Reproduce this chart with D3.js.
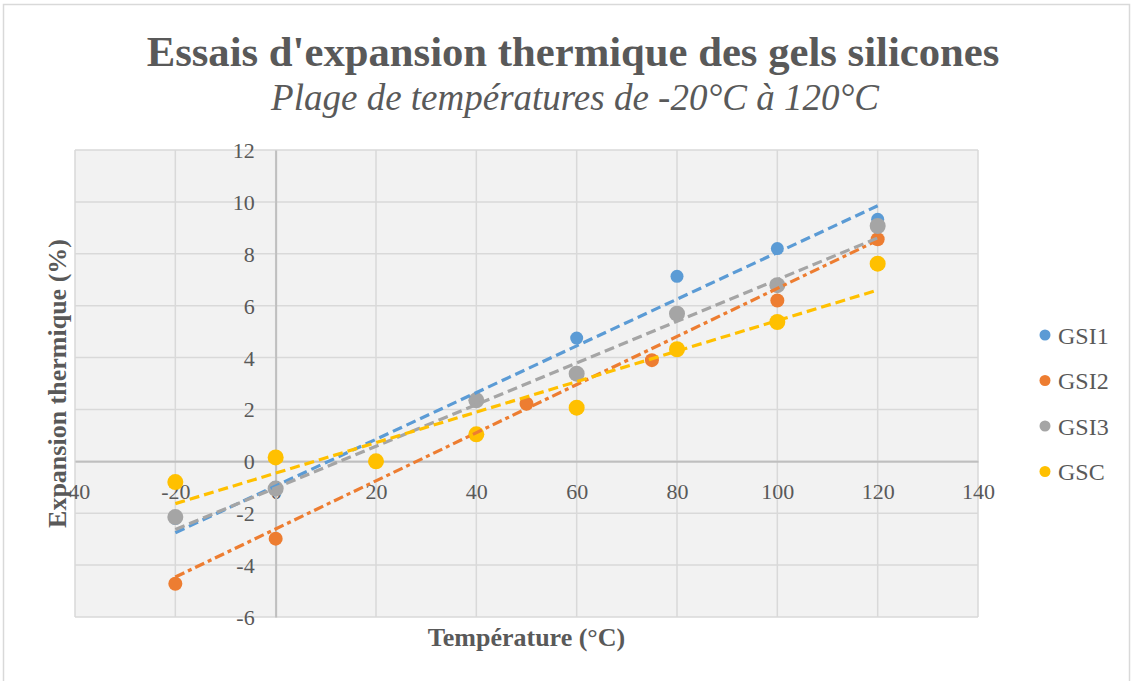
<!DOCTYPE html>
<html>
<head>
<meta charset="utf-8">
<script src="https://cdn.jsdelivr.net/npm/d3@7"></script>
<style>
  html, body { margin: 0; padding: 0; background: #ffffff; }
  svg { display: block; }
  text { font-family: "Liberation Serif", "Times New Roman", serif; fill: #595959; }
</style>
</head>
<body>
<svg id="chart" width="1133" height="681"></svg>
<script>
// ---- Data ----
const seriesNames = ["GSI1", "GSI2", "GSI3", "GSC"];
const seriesColors = ["#5B9BD5", "#ED7D31", "#A5A5A5", "#FFC000"];

const gsi1X = [-20, 0, 40, 60, 80, 100, 120];
const gsi1Y = [-2.2, -1.0, 2.35, 4.75, 7.13, 8.2, 9.33];

const gsi2X = [-20, 0, 50, 75, 100, 120];
const gsi2Y = [-4.72, -2.98, 2.22, 3.9, 6.2, 8.56];

const gsi3X = [-20, 0, 40, 60, 80, 100, 120];
const gsi3Y = [-2.15, -1.05, 2.35, 3.38, 5.69, 6.79, 9.07];

const gscX = [-20, 0, 20, 40, 60, 80, 100, 120];
const gscY = [-0.8, 0.15, 0, 1.04, 2.07, 4.32, 5.37, 7.62];

// Linear trend lines: value at the first and last temperature
const trendX = [-20, 120];
const trendStart = [-2.75, -4.46, -2.63, -1.63];
const trendEnd = [9.85, 8.52, 8.61, 6.6];

const xTicks = [-40, -20, 0, 20, 40, 60, 80, 100, 120, 140];
const yTicks = [-6, -4, -2, 0, 2, 4, 6, 8, 10, 12];

const titleText = "Essais d'expansion thermique des gels silicones";
const subtitleText = "Plage de températures de -20°C à 120°C";
const xTitle = "Température (°C)";
const yTitle = "Expansion thermique (%)";

// ---- Layout ----
const svg = d3.select("#chart");
const plot = { left: 75, right: 978, top: 150, bottom: 617 };

const x = d3.scaleLinear().domain([-40, 140]).range([plot.left, plot.right]);
const y = d3.scaleLinear().domain([-6, 12]).range([plot.bottom, plot.top]);

// chart border
svg.append("rect")
  .attr("x", 3.5).attr("y", 4.5).attr("width", 1126).attr("height", 700)
  .attr("fill", "#ffffff").attr("stroke", "#d9d9d9").attr("stroke-width", 1.5);

// plot background
svg.append("rect")
  .attr("x", plot.left).attr("y", plot.top)
  .attr("width", plot.right - plot.left).attr("height", plot.bottom - plot.top)
  .attr("fill", "#f2f2f2");

// gridlines
const grid = svg.append("g");
grid.selectAll("line.v").data(xTicks).join("line")
  .attr("x1", d => x(d)).attr("x2", d => x(d))
  .attr("y1", plot.top).attr("y2", plot.bottom)
  .attr("stroke", "#d9d9d9").attr("stroke-width", 1.5);
grid.selectAll("line.h").data(yTicks).join("line")
  .attr("y1", d => y(d)).attr("y2", d => y(d))
  .attr("x1", plot.left).attr("x2", plot.right)
  .attr("stroke", "#d9d9d9").attr("stroke-width", 1.5);

// axes crossing at zero
const fmt = d => String(d);
const xAxis = d3.axisBottom(x).tickValues(xTicks).tickFormat(fmt).tickSize(0).tickPadding(0);
const yAxis = d3.axisLeft(y).tickValues(yTicks).tickFormat(fmt).tickSize(0).tickPadding(0);

const gx = svg.append("g").attr("transform", `translate(0,${y(0)})`).call(xAxis);
gx.select(".domain").attr("stroke", "#bfbfbf").attr("stroke-width", 2);
gx.selectAll(".tick text")
  .attr("y", 38).attr("dy", null)
  .style("font-family", "'Liberation Serif', serif")
  .style("font-size", "22px").style("fill", "#595959");

const gy = svg.append("g").attr("transform", `translate(${x(0)},0)`).call(yAxis);
gy.select(".domain").attr("stroke", "#bfbfbf").attr("stroke-width", 2);
gy.selectAll(".tick text")
  .attr("x", -21).attr("dy", "0.34em")
  .style("font-family", "'Liberation Serif', serif")
  .style("font-size", "22px").style("fill", "#595959");

// markers
const seriesData = [
  { xs: gsi1X, ys: gsi1Y, r: 6.5 },
  { xs: gsi2X, ys: gsi2Y, r: 7 },
  { xs: gsi3X, ys: gsi3Y, r: 8 },
  { xs: gscX, ys: gscY, r: 8 }
];
seriesData.forEach((s, i) => {
  const pts = s.xs.map((v, k) => ({ x: v, y: s.ys[k] }));
  svg.append("g").selectAll("circle").data(pts).join("circle")
    .attr("cx", d => x(d.x)).attr("cy", d => y(d.y)).attr("r", s.r)
    .attr("fill", seriesColors[i]);
});

// trend lines (drawn above markers)
const dashes = ["10,5", "10,4,4,4", "10,5", "10,5"];
const line = d3.line().x(d => x(d.x)).y(d => y(d.y));
seriesNames.forEach((n, i) => {
  const pts = [{ x: trendX[0], y: trendStart[i] }, { x: trendX[1], y: trendEnd[i] }];
  svg.append("path").datum(pts)
    .attr("d", line)
    .attr("fill", "none")
    .attr("stroke", seriesColors[i])
    .attr("stroke-width", 3.2)
    .attr("stroke-dasharray", dashes[i]);
});

// titles
svg.append("text")
  .attr("x", 573).attr("y", 66).attr("text-anchor", "middle")
  .style("font-size", "42.7px").style("font-weight", "bold")
  .text(titleText);
svg.append("text")
  .attr("x", 575).attr("y", 110).attr("text-anchor", "middle")
  .style("font-size", "37px").style("font-style", "italic")
  .text(subtitleText);

svg.append("text")
  .attr("x", (plot.left + plot.right) / 2).attr("y", 646).attr("text-anchor", "middle")
  .style("font-size", "26px").style("font-weight", "bold")
  .text(xTitle);
svg.append("text")
  .attr("transform", `translate(66,${(plot.top + plot.bottom) / 2}) rotate(-90)`)
  .attr("text-anchor", "middle")
  .style("font-size", "26px").style("font-weight", "bold")
  .text(yTitle);

// legend
const legend = svg.append("g");
const legendY = [335, 380.5, 426, 471.5];
seriesNames.forEach((n, i) => {
  legend.append("circle").attr("cx", 1045).attr("cy", legendY[i]).attr("r", 5.5)
    .attr("fill", seriesColors[i]);
  legend.append("text").attr("x", 1058).attr("y", legendY[i] + 8.5)
    .style("font-size", "24px").text(n);
});
</script>
</body>
</html>
